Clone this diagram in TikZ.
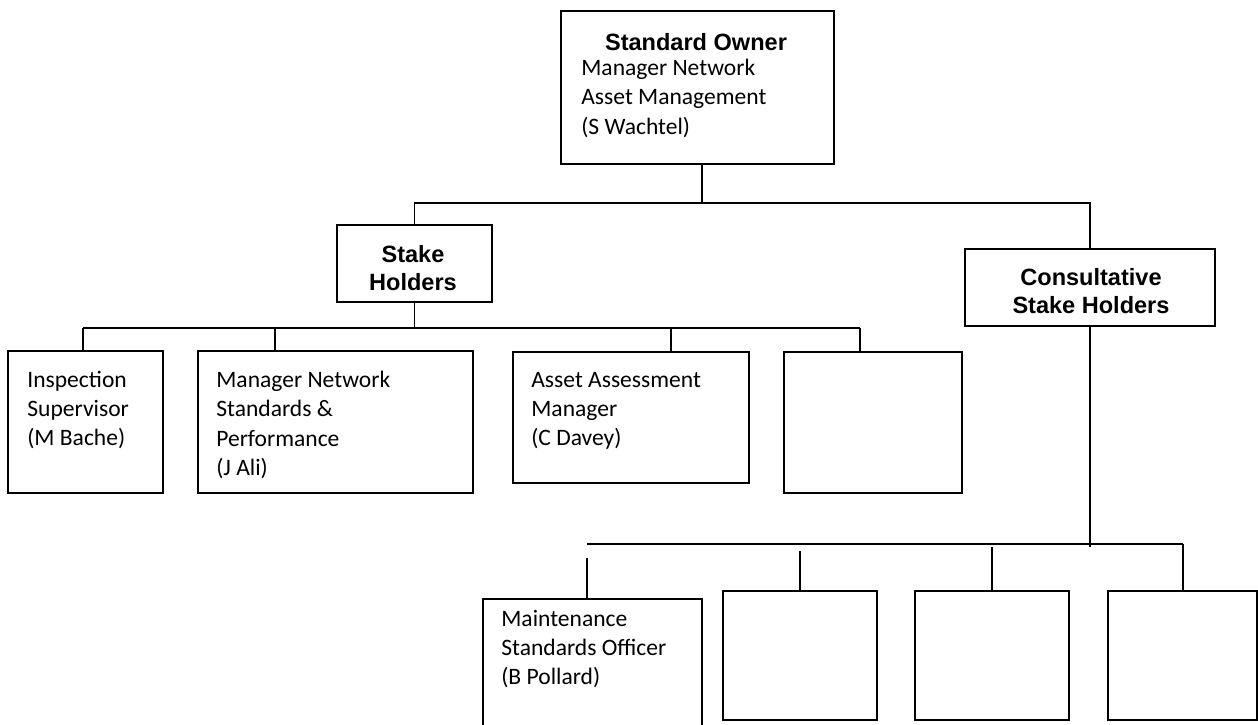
\documentclass[tikz,border=0pt]{standalone}
\usepackage{fontspec}
\setmainfont{Carlito}
\newfontfamily\headfont{Liberation Sans}
\usetikzlibrary{positioning}

\tikzset{
  box/.style={draw, line width=1.1pt, anchor=north west, inner sep=0pt},
  link/.style={line width=1pt},
  body/.style={font=\fontsize{13.4}{16.6}\selectfont, align=left, inner sep=0pt,
    anchor=north west, execute at begin node=\strut},
  head/.style={font=\headfont\bfseries\fontsize{13.4}{16.2}\selectfont, align=center,
    inner sep=0pt},
}

\begin{document}
\begin{tikzpicture}[x=0.02cm, y=-0.02cm]
    \useasboundingbox (0,0) rectangle (1258,724);
    % boxes
    \node[box, minimum width=5.46cm, minimum height=3.06cm] (own) at (560,10) {};
    \node[box, minimum width=3.10cm, minimum height=1.54cm] (stake) at (336,224) {};
    \node[box, minimum width=5.00cm, minimum height=1.54cm] (cons) at (964,248) {};
    \node[box, minimum width=3.10cm, minimum height=2.84cm] (insp) at (7,350) {};
    \node[box, minimum width=5.50cm, minimum height=2.84cm] (mns) at (197,350) {};
    \node[box, minimum width=4.72cm, minimum height=2.62cm] (aam) at (512,351) {};
    \node[box, minimum width=3.56cm, minimum height=2.82cm] (emp) at (783,351) {};
    \node[box, minimum width=4.38cm, minimum height=2.84cm] (mso) at (482,598) {};
    \node[box, minimum width=3.08cm, minimum height=2.58cm] (bx2) at (722,590) {};
    \node[box, minimum width=3.08cm, minimum height=2.58cm] (bx3) at (914,590) {};
    \node[box, minimum width=2.98cm, minimum height=2.58cm] (bx4) at (1107,590) {};
    % texts
    \node[head, anchor=base] (ownH) at (696,50) {Standard Owner};
    \node[body] (ownT) at (581,59) {Manager Network\\Asset Management\\(S Wachtel)};
    \node[head, anchor=north, execute at begin node=\strut] (stakeT) at (413,245) {Stake\\Holders};
    \node[head, anchor=north, execute at begin node=\strut] (consT) at (1091,268) {Consultative\\Stake Holders};
    \node[body] (inspT) at (27,371) {Inspection\\Supervisor\\(M Bache)};
    \node[body] (mnsT) at (216,371) {Manager Network\\Standards \&\\Performance\\(J Ali)};
    \node[body] (aamT) at (531,372) {Asset Assessment\\Manager\\(C Davey)};
    \node[body] (msoT) at (501,610) {Maintenance\\Standards Officer\\(B Pollard)};
    % connectors
    \coordinate (busT) at (702,203);
    \draw[link] (own.south -| busT) -- (busT);
    \draw[link] (stake.north) |- (busT) -| (cons.north);
    \draw[link] (stake.south) -- (stake.south |- 0,328);
    \draw[link] (83,328) -- (860,328);
    \foreach \x/\b in {83/insp, 275/mns, 671/aam, 860/emp}
        \draw[link] (\x,328) -- (\x,328 |- \b.north);
    \draw[link] (cons.south) -- (cons.south |- 0,547);
    \draw[link] (587,544) -- (1183,544);
    \foreach \x/\t/\b in {587/558/mso, 800/551/bx2, 992/547/bx3, 1183/544/bx4}
        \draw[link] (\x,\t) -- (\x,\t |- \b.north);
\end{tikzpicture}
\end{document}
